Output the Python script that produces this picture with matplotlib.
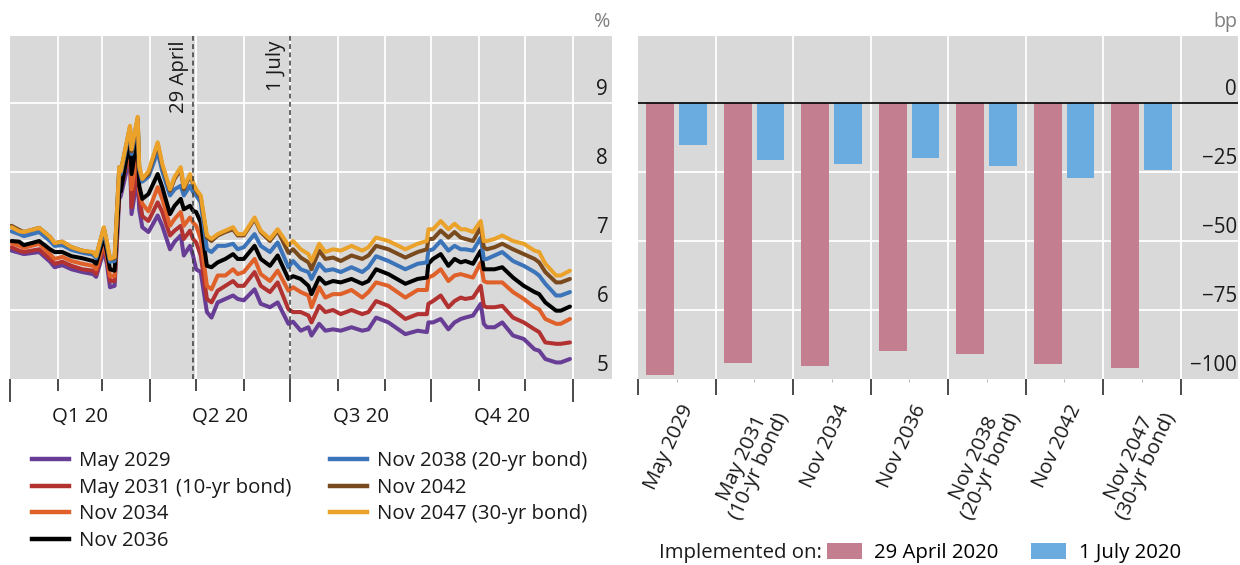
import numpy as np
import matplotlib
matplotlib.use("Agg")
import matplotlib.pyplot as plt
import matplotlib.dates as mdates
import matplotlib.transforms as mtransforms
from matplotlib.lines import Line2D
from matplotlib.patches import Patch

plt.rcParams['font.family'] = ['Open Sans', 'DejaVu Sans']

# ---------------- data: government bond yields, 2020 (%) ----------------
dates = [
    "2020-01-02", "2020-01-07", "2020-01-10", "2020-01-20", "2020-01-27", "2020-01-30",
    "2020-02-04", "2020-02-10", "2020-02-17", "2020-02-24", "2020-02-26", "2020-03-02",
    "2020-03-04", "2020-03-06", "2020-03-09", "2020-03-12", "2020-03-13", "2020-03-19",
    "2020-03-20", "2020-03-24", "2020-03-25", "2020-03-27", "2020-03-31", "2020-04-06",
    "2020-04-09", "2020-04-14", "2020-04-17", "2020-04-21", "2020-04-23", "2020-04-27",
    "2020-04-29", "2020-05-01", "2020-05-04", "2020-05-08", "2020-05-11", "2020-05-15",
    "2020-05-20", "2020-05-25", "2020-05-28", "2020-06-01", "2020-06-08", "2020-06-12",
    "2020-06-18", "2020-06-23", "2020-06-30", "2020-07-03", "2020-07-08", "2020-07-13",
    "2020-07-15", "2020-07-20", "2020-07-24", "2020-07-29", "2020-08-03", "2020-08-10",
    "2020-08-17", "2020-08-21", "2020-08-26", "2020-09-03", "2020-09-14", "2020-09-22",
    "2020-09-28", "2020-09-29", "2020-10-02", "2020-10-07", "2020-10-12", "2020-10-16",
    "2020-10-20", "2020-10-23", "2020-10-28", "2020-11-02", "2020-11-04", "2020-11-06",
    "2020-11-11", "2020-11-16", "2020-11-23", "2020-11-30", "2020-12-07", "2020-12-10",
    "2020-12-14", "2020-12-21", "2020-12-24", "2020-12-30",
]

may_2029 = [
    6.86, 6.83, 6.81, 6.84, 6.70, 6.62, 6.65, 6.59, 6.55, 6.52, 6.48, 6.86,
    6.67, 6.33, 6.35, 7.61, 7.65, 8.23, 7.39, 7.94, 7.46, 7.20, 7.13, 7.37,
    7.22, 6.88, 6.99, 7.08, 6.79, 6.93, 6.79, 6.59, 6.55, 5.97, 5.89, 6.11,
    6.16, 6.21, 6.16, 6.14, 6.30, 6.09, 6.04, 6.11, 5.80, 5.83, 5.70, 5.75,
    5.63, 5.80, 5.70, 5.72, 5.70, 5.75, 5.70, 5.72, 5.89, 5.82, 5.65, 5.70,
    5.68, 5.82, 5.82, 5.87, 5.72, 5.82, 5.87, 5.89, 5.92, 6.09, 5.80, 5.75,
    5.75, 5.82, 5.63, 5.58, 5.43, 5.41, 5.29, 5.24, 5.24, 5.29,
]
may_2031 = [
    6.91, 6.86, 6.84, 6.88, 6.74, 6.67, 6.70, 6.64, 6.59, 6.57, 6.52, 6.93,
    6.74, 6.42, 6.42, 7.72, 7.75, 8.36, 7.49, 8.12, 7.65, 7.36, 7.29, 7.56,
    7.42, 7.08, 7.15, 7.22, 7.03, 7.15, 7.03, 6.98, 6.79, 6.16, 6.11, 6.28,
    6.35, 6.42, 6.35, 6.35, 6.55, 6.35, 6.26, 6.40, 6.01, 5.97, 5.97, 5.92,
    5.82, 6.06, 5.97, 6.00, 5.94, 6.00, 5.94, 5.97, 6.13, 6.06, 5.87, 5.94,
    5.94, 6.09, 6.13, 6.21, 6.04, 6.13, 6.18, 6.16, 6.18, 6.35, 6.06, 6.04,
    6.04, 6.06, 5.89, 5.82, 5.72, 5.68, 5.53, 5.51, 5.51, 5.53,
]
nov_2034 = [
    6.97, 6.93, 6.90, 6.96, 6.81, 6.74, 6.77, 6.71, 6.67, 6.64, 6.59, 6.99,
    6.78, 6.49, 6.49, 7.71, 7.75, 8.41, 7.75, 8.33, 7.72, 7.54, 7.43, 7.78,
    7.61, 7.22, 7.32, 7.42, 7.22, 7.34, 7.27, 7.22, 7.03, 6.35, 6.30, 6.50,
    6.50, 6.59, 6.52, 6.55, 6.74, 6.52, 6.42, 6.57, 6.28, 6.33, 6.26, 6.21,
    6.04, 6.33, 6.18, 6.23, 6.23, 6.29, 6.18, 6.26, 6.40, 6.35, 6.18, 6.29,
    6.29, 6.47, 6.50, 6.59, 6.42, 6.50, 6.52, 6.50, 6.47, 6.69, 6.42, 6.40,
    6.40, 6.40, 6.26, 6.16, 6.04, 6.01, 5.87, 5.80, 5.80, 5.87,
]
nov_2036 = [
    7.00, 6.99, 6.94, 7.00, 6.88, 6.84, 6.84, 6.78, 6.75, 6.71, 6.67, 7.06,
    6.84, 6.59, 6.57, 7.71, 7.72, 8.48, 7.97, 8.52, 7.80, 7.61, 7.68, 7.97,
    7.78, 7.39, 7.51, 7.61, 7.46, 7.51, 7.44, 7.42, 7.27, 6.64, 6.62, 6.69,
    6.74, 6.81, 6.74, 6.74, 6.93, 6.74, 6.64, 6.79, 6.45, 6.49, 6.45, 6.35,
    6.23, 6.47, 6.38, 6.42, 6.40, 6.45, 6.38, 6.42, 6.59, 6.52, 6.38, 6.45,
    6.47, 6.67, 6.74, 6.81, 6.64, 6.74, 6.69, 6.71, 6.67, 6.86, 6.59, 6.59,
    6.59, 6.62, 6.47, 6.35, 6.26, 6.23, 6.11, 5.99, 5.99, 6.05,
]
nov_2038 = [
    7.14, 7.10, 7.07, 7.13, 7.00, 6.93, 6.94, 6.87, 6.83, 6.80, 6.75, 7.14,
    6.93, 6.70, 6.71, 8.01, 7.97, 8.62, 8.26, 8.74, 8.04, 7.86, 7.93, 8.29,
    8.01, 7.66, 7.75, 7.80, 7.66, 7.80, 7.71, 7.66, 7.56, 6.88, 6.84, 6.93,
    6.93, 6.96, 6.88, 6.91, 7.10, 6.93, 6.84, 6.98, 6.62, 6.71, 6.59, 6.55,
    6.45, 6.67, 6.57, 6.59, 6.55, 6.62, 6.55, 6.62, 6.78, 6.71, 6.59, 6.67,
    6.69, 6.86, 6.88, 7.00, 6.86, 6.93, 6.88, 6.88, 6.86, 7.05, 6.74, 6.74,
    6.79, 6.84, 6.71, 6.64, 6.55, 6.50, 6.38, 6.21, 6.21, 6.26,
]
nov_2042 = [
    7.22, 7.16, 7.13, 7.19, 7.06, 6.97, 6.99, 6.91, 6.86, 6.83, 6.78, 7.19,
    6.97, 6.74, 6.75, 8.07, 8.01, 8.65, 8.30, 8.78, 8.07, 7.90, 7.97, 8.41,
    8.09, 7.73, 7.90, 8.04, 7.75, 7.95, 7.83, 7.73, 7.63, 7.05, 7.00, 7.08,
    7.13, 7.17, 7.08, 7.08, 7.32, 7.13, 7.00, 7.15, 6.83, 6.88, 6.76, 6.69,
    6.59, 6.86, 6.74, 6.76, 6.71, 6.79, 6.74, 6.79, 6.93, 6.88, 6.76, 6.84,
    6.88, 7.03, 7.03, 7.15, 7.05, 7.13, 7.05, 7.03, 7.00, 7.20, 6.91, 6.88,
    6.91, 6.96, 6.88, 6.81, 6.74, 6.69, 6.55, 6.40, 6.40, 6.45,
]
nov_2047 = [
    7.20, 7.14, 7.13, 7.19, 7.06, 6.97, 6.99, 6.91, 6.86, 6.84, 6.78, 7.20,
    6.99, 6.74, 6.77, 8.07, 8.01, 8.67, 8.33, 8.80, 8.09, 7.90, 8.01, 8.43,
    8.12, 7.75, 7.93, 8.07, 7.78, 7.97, 7.85, 7.75, 7.66, 7.08, 7.03, 7.10,
    7.15, 7.20, 7.10, 7.10, 7.34, 7.15, 7.03, 7.17, 6.94, 7.00, 6.88, 6.81,
    6.71, 6.96, 6.84, 6.88, 6.86, 6.93, 6.86, 6.91, 7.05, 7.00, 6.88, 6.96,
    7.00, 7.17, 7.17, 7.29, 7.17, 7.25, 7.17, 7.17, 7.13, 7.29, 7.00, 7.00,
    7.03, 7.08, 7.00, 6.96, 6.86, 6.84, 6.67, 6.50, 6.50, 6.57,
]

series_names = ["May 2029", "May 2031 (10-yr bond)", "Nov 2034", "Nov 2036",
                "Nov 2038 (20-yr bond)", "Nov 2042", "Nov 2047 (30-yr bond)"]
series_values = [may_2029, may_2031, nov_2034, nov_2036, nov_2038, nov_2042, nov_2047]
series_colors = ["#673d95", "#b23232", "#e0602a", "#000000", "#3c74b9", "#7a4a1f", "#eba22a"]

event_dates = ["2020-04-29", "2020-07-01"]
event_labels = ["29 April", "1 July"]
quarter_labels = ["Q1 20", "Q2 20", "Q3 20", "Q4 20"]

# ---------------- data: yield change on announcement (bp) ----------------
bond_labels = ["May 2029", "May 2031\n(10-yr bond)", "Nov 2034", "Nov 2036",
               "Nov 2038\n(20-yr bond)", "Nov 2042", "Nov 2047\n(30-yr bond)"]
change_29_april = [-98.7, -94.3, -95.4, -90.0, -91.1, -94.7, -96.1]
change_1_july = [-15.3, -20.8, -22.2, -20.0, -22.9, -27.3, -24.4]

# ---------------- figure ----------------
W, H = 1240, 565
fig = plt.figure(figsize=(W / 100, H / 100), dpi=100)
BG = "#d9d9d9"
FS = 14.7
TFS = 14.8
TXT = "#1a1a1a"


def fx(px):
    return px / W


def fy(py):
    return 1 - py / H


ax_top, ax_bot = 36, 379
ax1 = fig.add_axes([fx(10), fy(ax_bot), fx(602), (ax_bot - ax_top) / H])
ax2 = fig.add_axes([fx(638), fy(ax_bot), fx(600), (ax_bot - ax_top) / H])

for ax in (ax1, ax2):
    ax.set_facecolor(BG)
    for s in ax.spines.values():
        s.set_visible(False)
    ax.tick_params(axis='y', left=False, right=False, labelleft=False, labelright=False)

px_per_unit = 69.0
ylim_left = (5, 5 + (ax_bot - ax_top) / px_per_unit)
ylim_right = (-100, -100 + (ax_bot - ax_top) / px_per_unit * 25)

# ---- left panel: yields ----
x = mdates.datestr2num(dates)
start = mdates.datestr2num("2020-01-01")
end = mdates.datestr2num("2021-01-01")
px_per_day = 563.0 / 366.0
ax1.set_xlim(start, start + 602 / px_per_day)
ax1.set_ylim(*ylim_left)

month_starts = [mdates.datestr2num(f"2020-{m:02d}-01") for m in range(2, 13)] + [end]
for m in month_starts:
    ax1.axvline(m, color="white", lw=1.3, zorder=1)
for v in [6, 7, 8, 9]:
    ax1.axhline(v, color="white", lw=1.3, zorder=1)

order = [0, 2, 3, 4, 5, 6, 1]
for i in order:
    ax1.plot(x, series_values[i], color=series_colors[i], lw=2.9, zorder=3 + i * 0.01,
             solid_joinstyle='round', solid_capstyle='round')

for d, lab in zip(event_dates, event_labels):
    dn = mdates.datestr2num(d)
    ax1.axvline(dn, color="#3a3a3a", lw=1.1, ls=(0, (3.2, 2.2)), zorder=4)
    ax1.annotate(lab, xy=(dn, ylim_left[1]), xytext=(-3, -3), textcoords="offset points",
                 rotation=90, ha="right", va="top", fontsize=FS, color=TXT)

quarter_starts = [mdates.datestr2num(s) for s in
                  ["2020-01-01", "2020-04-01", "2020-07-01", "2020-10-01", "2021-01-01"]]
minor_months = [mdates.datestr2num(f"2020-{m:02d}-01") for m in (2, 3, 5, 6, 8, 9, 11, 12)]
ax1.set_xticks(quarter_starts)
ax1.set_xticks(minor_months, minor=True)
ax1.tick_params(axis='x', which='major', length=23 * 0.72, width=1.1, color=TXT,
                labelbottom=False, direction='out')
ax1.tick_params(axis='x', which='minor', length=12 * 0.72, width=1.1, color=TXT,
                direction='out')
trans1 = mtransforms.blended_transform_factory(ax1.transData, ax1.transAxes)
for q0, q1, lab in zip(quarter_starts[:-1], quarter_starts[1:], quarter_labels):
    ax1.text((q0 + q1) / 2, -38 / (ax_bot - ax_top), lab, transform=trans1,
             ha="center", va="center", fontsize=FS, color=TXT)

ytrans1 = mtransforms.blended_transform_factory(ax1.transAxes, ax1.transData)
for v in [5, 6, 7, 8, 9]:
    ax1.annotate(str(v), xy=(598 / 602, v), xycoords=ytrans1, xytext=(0, 10),
                 textcoords="offset points", ha="right", va="center",
                 fontsize=TFS, color=TXT)

fig.text(fx(602), fy(22), "%", ha="center", va="center", fontsize=FS - 0.5, color="#7f7f7f")

# legend for yield lines, two columns
handles = [Line2D([0], [0], color=c, lw=3.2) for c in series_colors]
leg_kw = dict(frameon=False, loc="upper left", fontsize=FS, handlelength=1.8,
              handletextpad=0.5, labelspacing=0.33, borderpad=0, borderaxespad=0)
leg1 = fig.legend(handles[:4], series_names[:4], bbox_to_anchor=(fx(32), fy(451)), **leg_kw)
leg2 = fig.legend(handles[4:], series_names[4:], bbox_to_anchor=(fx(330), fy(451)), **leg_kw)
for lg in (leg1, leg2):
    for t in lg.get_texts():
        t.set_color(TXT)

# ---- right panel: bars ----
n = len(bond_labels)
slot = np.arange(n)
ax2.set_xlim(0, 600 / 77.5)
ax2.set_ylim(*ylim_right)
for b in range(1, n + 1):
    ax2.axvline(b, color="white", lw=1.3, zorder=1)
for v in [-25, -50, -75]:
    ax2.axhline(v, color="white", lw=1.3, zorder=1)

bw = 0.36
ax2.bar(slot + 0.285, change_29_april, width=bw, color="#c37f8f", zorder=2)
ax2.bar(slot + 0.71, change_1_july, width=bw, color="#6aace0", zorder=2)
ax2.axhline(0, color="black", lw=1.2, zorder=3)

ax2.set_xticks(np.arange(n + 1))
ax2.set_xticks(slot + 0.5, minor=True)
ax2.tick_params(axis='x', which='major', length=16 * 0.72, width=1.1, color=TXT,
                labelbottom=False, direction='out')
ax2.tick_params(axis='x', which='minor', length=2, width=0.8, color="#bbbbbb",
                direction='out')
trans2 = mtransforms.blended_transform_factory(ax2.transData, ax2.transAxes)
for i, lab in enumerate(bond_labels):
    ax2.text(i + 0.5 + 0.04, -23 / (ax_bot - ax_top), lab, transform=trans2,
             rotation=65, rotation_mode="anchor", ha="right", va="top",
             multialignment="center", fontsize=FS, color=TXT, linespacing=0.92)

ytrans2 = mtransforms.blended_transform_factory(ax2.transAxes, ax2.transData)
for v in [0, -25, -50, -75, -100]:
    lab = str(v).replace("-", "\u2212")
    ax2.annotate(lab, xy=(599 / 600, v), xycoords=ytrans2, xytext=(0, 10),
                 textcoords="offset points", ha="right", va="center",
                 fontsize=TFS, color=TXT)

fig.text(fx(1225), fy(22), "bp", ha="center", va="center", fontsize=FS - 0.5, color="#7f7f7f")

fig.text(fx(822), fy(553), "Implemented on:", ha="right", va="center",
         fontsize=FS, color=TXT)
bar_handles = [Patch(facecolor="#c37f8f"), Patch(facecolor="#6aace0")]
fig.legend(bar_handles, ["29 April 2020", "1 July 2020"], ncol=2, frameon=False,
           loc="center left", bbox_to_anchor=(fx(827), fy(553)), fontsize=FS,
           handlelength=1.7, handleheight=0.85, handletextpad=0.62, columnspacing=1.6,
           borderpad=0, borderaxespad=0)

fig.savefig("out.png", dpi=100, facecolor="white")
